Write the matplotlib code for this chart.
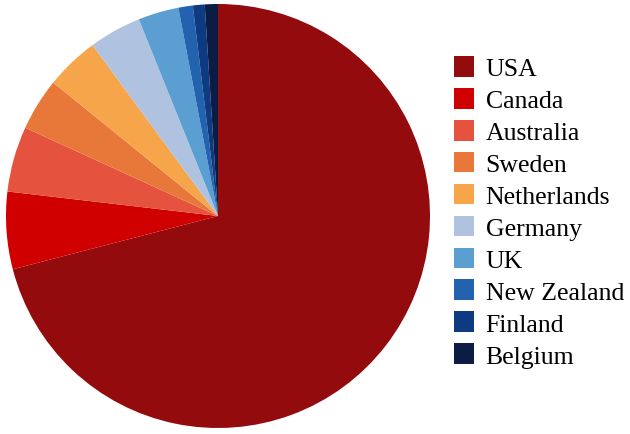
import matplotlib
matplotlib.use("Agg")
import matplotlib.pyplot as plt

# share of each country
countries = ["USA", "Canada", "Australia", "Sweden", "Netherlands",
             "Germany", "UK", "New Zealand", "Finland", "Belgium"]
shares = [71.1, 5.9, 5.0, 4.0, 4.1, 4.0, 3.1, 1.1, 0.9, 1.0]
colors = ["#930b0c", "#d00000", "#e5533f", "#e8783a", "#f6a54a",
          "#afc3e0", "#5b9fd2", "#2262ae", "#0e3a82", "#0b1d45"]

plt.rcParams["font.family"] = ["Liberation Serif", "DejaVu Serif"]

W, H = 630, 435
fig = plt.figure(figsize=(W / 100, H / 100), dpi=100)

# pie centre ~(218, 217) px, radius ~212 px
cx, cy, r = 218, 217, 212
ax = fig.add_axes([(cx - r) / W, (H - cy - r) / H, 2 * r / W, 2 * r / H])
wedges, _ = ax.pie(shares, colors=colors, startangle=90, counterclock=False,
                   wedgeprops=dict(linewidth=0, antialiased=True))
ax.set_xlim(-1, 1)
ax.set_ylim(-1, 1)
ax.set_aspect("equal")

fig.legend(wedges, countries, loc="upper left",
           bbox_to_anchor=(454 / W, 1 - 57 / H),
           frameon=False, fontsize=18.5, borderpad=0, borderaxespad=0,
           handlelength=0.78, handleheight=0.86, handletextpad=0.45,
           labelspacing=0.3)

fig.savefig("out.png", dpi=100)
